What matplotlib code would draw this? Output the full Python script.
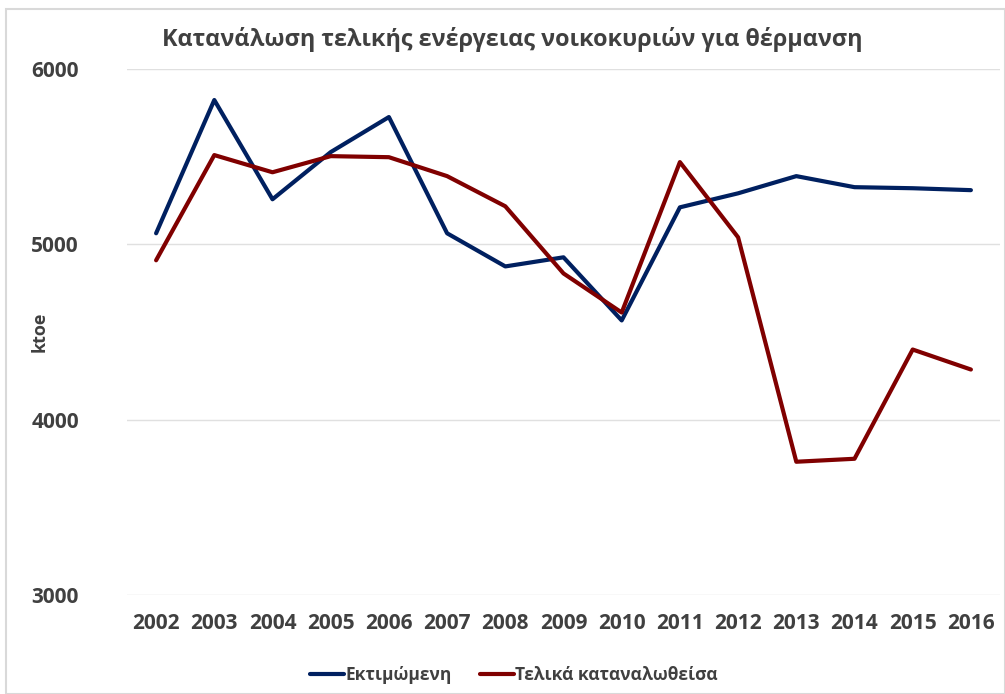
import matplotlib.pyplot as plt
from matplotlib.patches import Rectangle

years = [str(y) for y in range(2002, 2017)]
estimated = [5063, 5823, 5257, 5526, 5726, 5063, 4874, 4926, 4566,
             5211, 5291, 5389, 5326, 5320, 5309]
actual = [4909, 5509, 5411, 5503, 5497, 5389, 5217, 4834, 4611,
          5469, 5040, 3760, 3777, 4400, 4286]

plt.rcParams["font.family"] = ["Open Sans", "DejaVu Sans"]
text_color = "#404040"

fig = plt.figure(figsize=(10.05, 6.94), dpi=100)
ax = fig.add_axes([127 / 1005, 1 - 595 / 694, (1000 - 127) / 1005, (595 - 69) / 694])

x = list(range(len(years)))
ax.plot(x, estimated, color="#002060", linewidth=3, solid_capstyle="round",
        label="Εκτιμώμενη")
ax.plot(x, actual, color="#800000", linewidth=3, solid_capstyle="round",
        label="Τελικά καταναλωθείσα")

ax.set_ylim(3000, 6000)
ax.set_yticks([3000, 4000, 5000, 6000])
ax.set_xlim(-0.5, len(years) - 0.5)
ax.set_xticks(x)
ax.set_xticklabels(years)
ax.tick_params(length=0, labelsize=15, labelcolor=text_color, pad=13)
for lab in ax.get_xticklabels() + ax.get_yticklabels():
    lab.set_fontweight("bold")
ax.tick_params(axis="y", pad=69)
for lab in ax.get_yticklabels():
    lab.set_horizontalalignment("left")

ax.grid(axis="y", color="#e0e0e0", linewidth=1)
ax.set_axisbelow(True)
for s in ax.spines.values():
    s.set_visible(False)

ax.set_ylabel("ktoe", fontsize=13, fontweight="bold", color=text_color, va="center")
ax.yaxis.set_label_coords(-0.0997, 0.5)

fig.text(512 / 1005, 1 - 39 / 694, "Κατανάλωση τελικής ενέργειας νοικοκυριών για θέρμανση",
         ha="center", va="center", fontsize=16.8, fontweight="bold", color=text_color)

leg = ax.legend(loc="center", bbox_to_anchor=(0.443, -0.152), ncol=2, frameon=False,
                handlelength=2.0, columnspacing=1.6, handletextpad=0.05,
                prop={"size": 12.5, "weight": "bold"})
for t in leg.get_texts():
    t.set_color(text_color)

fig.patches.append(Rectangle((6 / 1005, 0), 999 / 1005, 685 / 694,
                             transform=fig.transFigure, fill=False,
                             edgecolor="#d9d9d9", linewidth=1.5))

fig.savefig("out.png", dpi=100)
